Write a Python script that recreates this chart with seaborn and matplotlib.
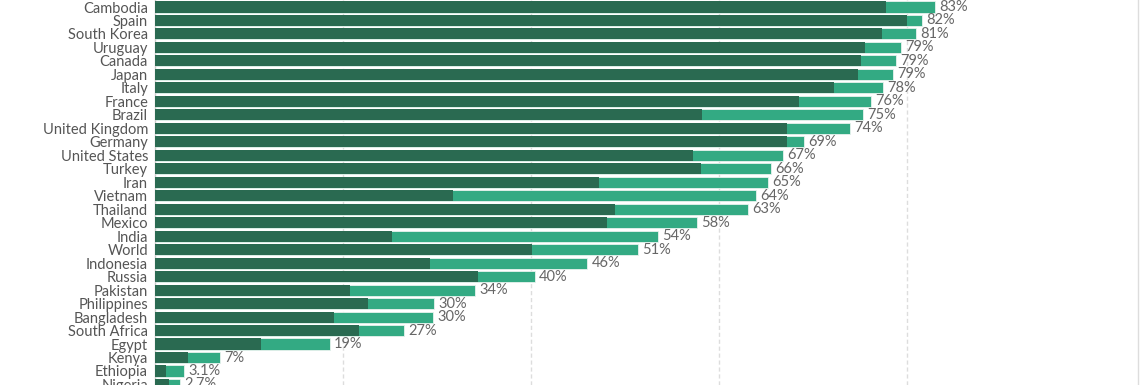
import matplotlib
matplotlib.use("Agg")
import matplotlib.pyplot as plt
import pandas as pd
import seaborn as sns

# countries, top to bottom
countries = ["Cambodia", "Spain", "South Korea", "Uruguay", "Canada", "Japan", "Italy",
             "France", "Brazil", "United Kingdom", "Germany", "United States", "Turkey",
             "Iran", "Vietnam", "Thailand", "Mexico", "India", "World", "Indonesia",
             "Russia", "Pakistan", "Philippines", "Bangladesh", "South Africa", "Egypt",
             "Kenya", "Ethiopia", "Nigeria"]
# share fully vaccinated (%)
fully = [77.8, 80.0, 77.4, 75.5, 75.1, 74.8, 72.2, 68.5, 58.2, 67.3, 67.2, 57.3, 58.1,
         47.2, 31.7, 48.9, 48.1, 25.2, 40.1, 29.3, 34.4, 20.7, 22.7, 19.1, 21.7, 11.3,
         3.5, 1.2, 1.5]
# share with at least one dose (%)
total = [83, 81.6, 81, 79.4, 78.8, 78.5, 77.5, 76.2, 75.3, 74, 69.1, 66.8, 65.5, 65.2,
         64, 63.1, 57.7, 53.5, 51.4, 46, 40.4, 34.1, 29.7, 29.6, 26.5, 18.6, 6.9, 3.1, 2.7]
labels = ["83%", "82%", "81%", "79%", "79%", "79%", "78%", "76%", "75%", "74%", "69%",
          "67%", "66%", "65%", "64%", "63%", "58%", "54%", "51%", "46%", "40%", "34%",
          "30%", "30%", "27%", "19%", "7%", "3.1%", "2.7%"]

df = pd.DataFrame({"country": countries, "fully": fully, "total": total})

dark = "#2a6a51"
light = "#33aa83"

sns.set_style("white")
plt.rcParams["font.family"] = ["Lato", "DejaVu Sans"]

fig = plt.figure(figsize=(11.4, 3.85), dpi=100)
ax = fig.add_axes([155 / 1140, 0, 983 / 1140, 1])

sns.barplot(data=df, y="country", x="total", color=light, orient="h", width=0.82,
            edgecolor="#e8f2ee", linewidth=0.6, saturation=1, ax=ax, zorder=2)
sns.barplot(data=df, y="country", x="fully", color=dark, orient="h", width=0.82,
            edgecolor="none", linewidth=0, saturation=1, ax=ax, zorder=3)

# value labels at the end of each bar
for i, (t, lab) in enumerate(zip(total, labels)):
    ax.text(t + 0.45, i, lab, va="center", ha="left", fontsize=10.5, color="#666666")

ax.set_xlim(0, 104.6)
ax.set_ylim(28.04, -0.52)
ax.set_xlabel("")
ax.set_ylabel("")
ax.set_xticks([20, 40, 60, 80])
ax.xaxis.grid(True, color="#dddddd", linestyle=(0, (3, 2)), linewidth=1)
ax.set_axisbelow(True)
ax.tick_params(axis="x", length=0, labelbottom=False)
ax.tick_params(axis="y", length=0, pad=5, labelsize=10.5, labelcolor="#555555")
for s in ["top", "bottom"]:
    ax.spines[s].set_visible(False)
ax.spines["left"].set_color("#cccccc")
ax.spines["left"].set_linewidth(1)
ax.spines["right"].set_color("#dddddd")
ax.spines["right"].set_linewidth(1)

fig.savefig("out.png", dpi=100)
